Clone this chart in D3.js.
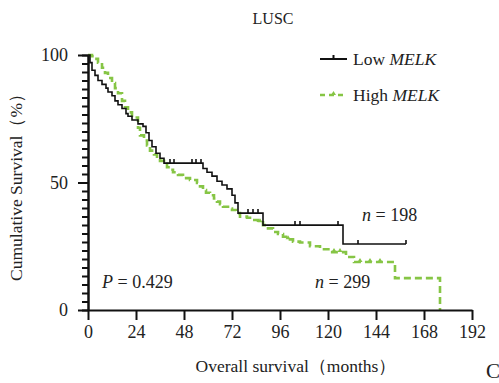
<!DOCTYPE html>
<html><head><meta charset="utf-8">
<script src="https://cdn.jsdelivr.net/npm/d3@7"></script>
<style>
body{margin:0;background:#fff;}
text{font-family:"Liberation Serif","Times New Roman",serif;fill:#222;}
</style></head>
<body><svg id="c" width="499" height="383"></svg>
<script>
// ---- data ----
const xTicks = [0,24,48,72,96,120,144,168,192];
const yTicks = [0,50,100];
const lowTimes = [0,1,2,3.5,5,7,9,10,12,13.5,15,17,19,20,22,25,27.5,29,30.5,32,34,36,38,57.5,59.5,62,64.5,67,69.5,72,73.5,75,77,87.5,127.5,159];
const lowSurv  = [100,97,94,92,90,88.5,87,85.5,84,82,80.5,79,77,76,74.5,73,72,69.5,66.5,64,61.5,59.5,57.6,55.5,54,52.5,50.5,49,47.5,45,42,38,38,33.3,25.9,25.9];
const lowCensor = [41,43,52,54,56.5,80,82.5,85,103.5,106,125,135,159];
const highTimes = [0,2,3.5,5,7,8.5,10,12,13.5,15,17,18.5,20,22,25,26,28,29.5,31,33,34.5,36,38,39.5,41,42.5,45,47.5,51,54.5,56,57.5,59,61,63,64.5,66,67.5,70,72,74,76,79.5,82.5,85,87.5,90,92.5,95,97.5,100,102.5,106,111,116,121,129,133,153.5,176];
const highSurv  = [100,99.5,98.5,97,95,93,91,89,87,85,82,79.5,77.5,75.5,71.5,68.5,66.5,64.5,62.5,61,59.5,58.5,57.3,56,55,54,53,51.7,51,49.8,48.5,47,46,45,43.7,42.5,41.5,40.5,39.8,39.2,38,36.6,36.2,35.3,34.4,33.3,32,30.6,29.8,28.7,27.7,26.8,26.5,25,23.8,22.7,20.8,18.8,12.5,0];
const highCensor = [86,100,123,126,136,141,146];
const seriesNames = ["Low ", "High "];
const geneName = "MELK";

// ---- chart ----
const svg = d3.select("#c");
const x = d3.scaleLinear().domain([0,192]).range([88,472]);
const y = d3.scaleLinear().domain([0,100]).range([310,55]);
const FONT = "'Liberation Serif', 'Times New Roman', serif";

svg.append("text").attr("x",273).attr("y",24).attr("text-anchor","middle")
  .style("font-size","16px").text("LUSC");

const line = d3.line().x(d=>x(d[0])).y(d=>y(d[1])).curve(d3.curveStepAfter);
const low = lowTimes.map((t,i)=>[t,lowSurv[i]]);
const high = highTimes.map((t,i)=>[t,highSurv[i]]);
const green = "#86c545";

function survAt(data,t){let s=data[0][1];for(const d of data){if(d[0]<=t)s=d[1];}return s;}

// high (green dashed)
svg.append("path").datum(high).attr("d",line).attr("fill","none")
  .attr("stroke",green).attr("stroke-width",2.6).attr("stroke-dasharray","7,4");
svg.append("g").selectAll("path").data(highCensor).join("path")
  .attr("d",t=>{const cx=x(t),cy=y(survAt(high,t));return `M${cx-2.5},${cy}L${cx},${cy-4}L${cx+2.5},${cy}Z`;})
  .attr("fill",green);

// low (black)
svg.append("path").datum(low).attr("d",line).attr("fill","none")
  .attr("stroke","#111").attr("stroke-width",1.6);
svg.append("g").selectAll("line").data(lowCensor).join("line")
  .attr("x1",t=>x(t)).attr("x2",t=>x(t))
  .attr("y1",t=>y(survAt(low,t))).attr("y2",t=>y(survAt(low,t))-4)
  .attr("stroke","#111").attr("stroke-width",1.6);

// axes
const xAxis = svg.append("g").attr("transform","translate(0,310)")
  .call(d3.axisBottom(x).tickValues(xTicks).tickSize(10).tickPadding(5).tickSizeOuter(0));
const yMinor = svg.append("g").attr("transform","translate(88,0)")
  .call(d3.axisLeft(y).tickValues(d3.range(0,100.01,100/30)).tickSize(6).tickFormat("").tickSizeOuter(0));
const yAxis = svg.append("g").attr("transform","translate(88,0)")
  .call(d3.axisLeft(y).tickValues(yTicks).tickSize(10).tickPadding(10).tickSizeOuter(0));
[xAxis,yAxis,yMinor].forEach(g=>{
  g.attr("font-family",null).attr("font-size",null);
  g.select(".domain").attr("stroke","#111").attr("stroke-width",2);
  g.selectAll(".tick line").attr("stroke","#111").attr("stroke-width",2);
  g.selectAll("text").style("font-family",FONT).style("font-size","18px").attr("fill","#222");
});

// axis titles
svg.append("text").attr("transform","translate(22,183) rotate(-90)").attr("text-anchor","middle")
  .style("font-size","17.5px").text("Cumulative Survival（%）");
svg.append("text").attr("x",296).attr("y",372).attr("text-anchor","middle")
  .style("font-size","17.5px").text("Overall survival（months）");
svg.append("text").attr("x",486).attr("y",378).style("font-size","21px").text("C");

// legend
svg.append("line").attr("x1",320).attr("x2",347).attr("y1",59).attr("y2",59).attr("stroke","#111").attr("stroke-width",2);
svg.append("line").attr("x1",333.5).attr("x2",333.5).attr("y1",59).attr("y2",55).attr("stroke","#111").attr("stroke-width",2);
const t1 = svg.append("text").attr("x",353).attr("y",65).style("font-size","17.5px");
t1.append("tspan").text(seriesNames[0]); t1.append("tspan").style("font-style","italic").text(geneName);
svg.append("line").attr("x1",320).attr("x2",347).attr("y1",95).attr("y2",95).attr("stroke",green).attr("stroke-width",2.6).attr("stroke-dasharray","5,4");
svg.append("path").attr("d","M331,95L333.5,91L336,95Z").attr("fill",green);
const t2 = svg.append("text").attr("x",353).attr("y",101).style("font-size","17.5px");
t2.append("tspan").text(seriesNames[1]); t2.append("tspan").style("font-style","italic").text(geneName);

// annotations
const n1 = svg.append("text").attr("x",362).attr("y",221).style("font-size","18px");
n1.append("tspan").style("font-style","italic").text("n"); n1.append("tspan").text(" = 198");
const n2 = svg.append("text").attr("x",315).attr("y",288).style("font-size","18px");
n2.append("tspan").style("font-style","italic").text("n"); n2.append("tspan").text(" = 299");
const p = svg.append("text").attr("x",102).attr("y",288).style("font-size","18px");
p.append("tspan").style("font-style","italic").text("P"); p.append("tspan").text(" = 0.429");
</script></body></html>
